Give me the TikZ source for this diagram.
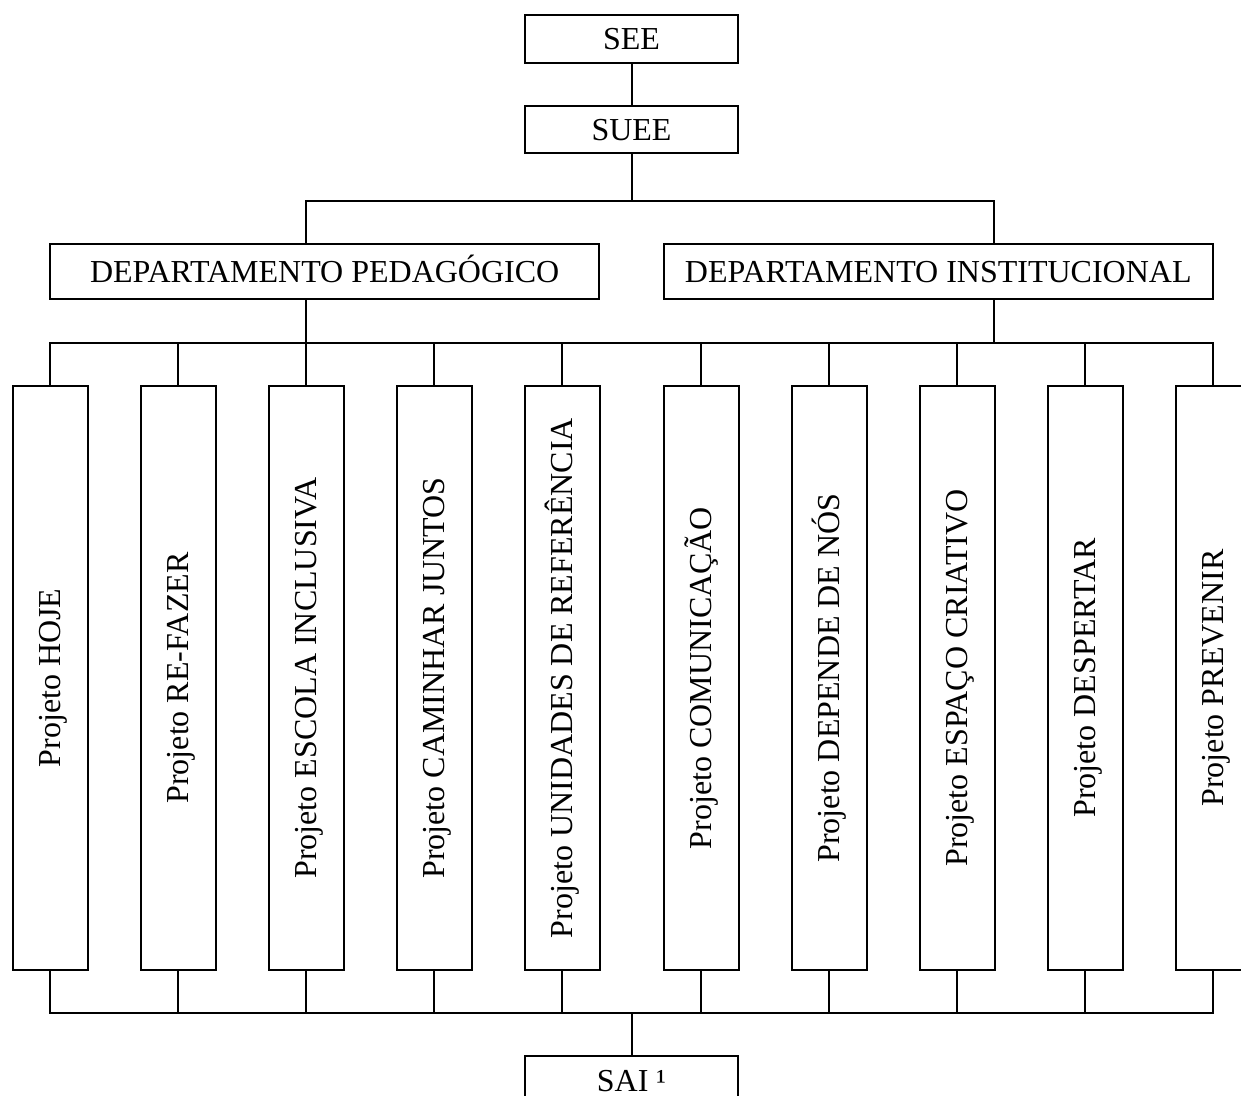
\documentclass[tikz,border=0pt]{standalone}
\usepackage{fontspec}
\setmainfont{Liberation Serif}
\begin{document}
\begin{tikzpicture}[x=1pt,y=-1pt,
  box/.style={draw, line width=2pt, inner sep=0pt, text height=21pt, text depth=0pt,
    font=\fontsize{32}{38}\selectfont},
  topbox/.style={box, minimum width=213pt},
  dept/.style={box, minimum width=549pt, minimum height=55pt},
  proj/.style={box, rotate=90, minimum width=584pt, minimum height=75pt},
  wire/.style={line width=2pt, line cap=rect}]
\useasboundingbox (0,0) rectangle (1241,1095);
\clip (0,0) rectangle (1241,1095);

\node[topbox, minimum height=48pt] (see) at (631.5,39) {SEE};
\node[topbox, minimum height=47pt] (suee) at (631.5,129.5) {SUEE};
\node[dept] (dped) at (324.7,271.5) {DEPARTAMENTO PEDAGÓGICO};
\node[dept] (dinst) at (938.3,271.5) {DEPARTAMENTO INSTITUCIONAL};

\node[proj] (p1) at (50,678) {Projeto HOJE};
\node[proj] (p2) at (178,678) {Projeto RE-FAZER};
\node[proj] (p3) at (306,678) {Projeto ESCOLA INCLUSIVA};
\node[proj] (p4) at (434,678) {Projeto CAMINHAR JUNTOS};
\node[proj] (p5) at (562,678) {Projeto UNIDADES DE REFERÊNCIA};
\node[proj] (p6) at (701,678) {Projeto COMUNICAÇÃO};
\node[proj] (p7) at (829,678) {Projeto DEPENDE DE NÓS};
\node[proj] (p8) at (957,678) {Projeto ESPAÇO CRIATIVO};
\node[proj] (p9) at (1085,678) {Projeto DESPERTAR};
\node[proj] (p10) at (1213,678) {Projeto PREVENIR};

\node[topbox, minimum height=50pt] (sai) at (631.5,1081) {SAI ¹};

% buses
\coordinate (tbL) at (306,201);
\coordinate (tbR) at (994,201);
\coordinate (mbL) at (50,343);
\coordinate (mbR) at (1213,343);
\coordinate (bbL) at (50,1012.5);
\coordinate (bbR) at (1213,1012.5);

\draw[wire] (see) -- (suee);
\draw[wire] (suee) -- (suee |- tbL);
\draw[wire] (dped.north -| tbL) -- (tbL) -- (tbR) -- (dinst.north -| tbR);
\draw[wire] (dped.south -| tbL) -- (tbL |- mbL);
\draw[wire] (dinst.south -| tbR) -- (tbR |- mbL);
\draw[wire] (mbL) -- (mbR);
\draw[wire] (bbL) -- (bbR);
\foreach \i in {1,...,10}{
  \draw[wire] (p\i.east) -- (p\i.east |- mbL);
  \draw[wire] (p\i.west) -- (p\i.west |- bbL);
}
\draw[wire] (sai) -- (sai |- bbL);
\end{tikzpicture}
\end{document}
